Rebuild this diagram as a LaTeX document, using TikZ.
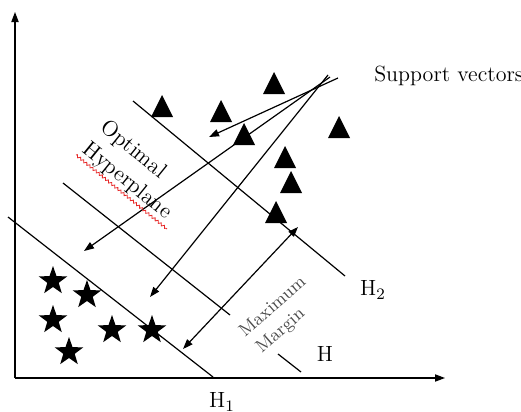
\documentclass[tikz,border=0pt]{standalone}
\usepackage{tikz}
\usetikzlibrary{arrows.meta,positioning,calc,shapes.geometric,decorations.pathmorphing}
\definecolor{gristexte}{gray}{0.3}
\definecolor{rougesouligne}{RGB}{230,40,40}

\begin{document}
\begin{tikzpicture}[x=0.5pt, y=-0.5pt, line width=0.6pt,
  fleche/.style={-{Triangle[length=5pt,width=3.6pt]}},
  doublefleche/.style={{Triangle[length=5pt,width=3.6pt]}-{Triangle[length=5pt,width=3.6pt]}},
  pointetoile/.style={star, star points=5, star point ratio=2.5, fill, inner sep=0pt, minimum size=15pt},
  etiquette/.style={font=\fontsize{11}{13}\selectfont}]
  \useasboundingbox (0,0) rectangle (521,412);
  % Axes
  \coordinate (O) at (15,378);
  \coordinate (Y) at (15,12);
  \coordinate (X) at (445,378);
  \draw[fleche] (O) -- (Y);
  \draw[fleche] (O) -- (X);
  % Hyperplans H1, H, H2
  \coordinate (h1a) at (8,217);    \coordinate (h1b) at (213,377);
  \coordinate (ha) at (63,183);    \coordinate (hb) at (230,315);
  \coordinate (hc) at (278,354);   \coordinate (hd) at (301,372);
  \coordinate (h2a) at (133,101);  \coordinate (h2b) at (345,276);
  \draw (h1a) -- (h1b);
  \draw (ha) -- (hb);
  \draw (hc) -- (hd);
  \draw (h2a) -- (h2b);
  % Classe 1 (triangles)
  \foreach \x/\y in {162/106, 221/111, 274/83, 244/134, 339/127, 285/157, 291/182, 276/212}
    \fill (\x-11,\y+11) -- (\x+11,\y+11) -- (\x,\y-11) -- cycle;
  % Classe 2 (etoiles)
  \foreach \x/\y [count=\i] in {53/281, 87/295, 53/320, 112/330, 152/330, 69/352}
    \node[pointetoile] (e\i) at (\x,\y) {};
  % Vecteurs de support
  \coordinate (sv1) at (338,78);   \coordinate (p1) at (209,137);
  \coordinate (sv2) at (330,77);   \coordinate (p2) at (84,251);
  \coordinate (sv3) at (328,75);   \coordinate (p3) at (150,297);
  \draw[fleche] (sv1) -- (p1);
  \draw[fleche] (sv2) -- (p2);
  \draw[fleche] (sv3) -- (p3);
  % Marge maximale
  \coordinate (m1) at (183,349);
  \coordinate (m2) at (298,227);
  \draw[doublefleche] (m1) -- (m2);
  % Annotations
  \node[etiquette, anchor=west] (sv) at (367,76) {Support vectors};
  \node[etiquette] (lh1) at (222,402) {H$_1$};
  \node[etiquette] (lh2) at (373,290) {H$_2$};
  \node[etiquette] (lh) at (325,354) {H};
  \node[etiquette, rotate=-39] (opt) at (133,150) {Optimal};
  \node[etiquette, rotate=-39, anchor=base west, inner sep=0pt] (hyp) at (81,151) {Hyperplane};
  \draw[rougesouligne, line width=0.4pt, decorate,
    decoration={zigzag, amplitude=0.6pt, segment length=2pt}] (76,155) -- (167,229);
  \node[gristexte, font=\small, rotate=41] (max) at (272,306) {Maximum};
  \node[gristexte, font=\small, rotate=41] (mar) at (281,331) {Margin};
\end{tikzpicture}
\end{document}
